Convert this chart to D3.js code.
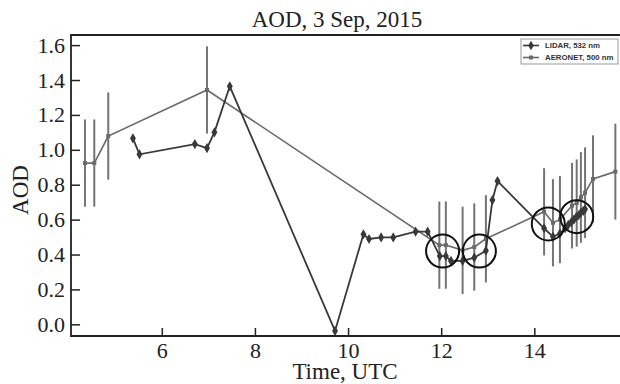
<!DOCTYPE html>
<html>
<head>
<meta charset="utf-8">
<script src="https://cdn.jsdelivr.net/npm/d3@7"></script>
<style>
  body { margin: 0; background: #fff; }
  svg { display: block; }
  .tick text { font-family: "Liberation Serif", "Times New Roman", serif; font-size: 22px; fill: #222; }
</style>
</head>
<body>
<div id="chart"></div>
<script>
// LIDAR 532 nm
const lidarTime = [5.38, 5.52, 6.71, 6.97, 7.13, 7.46, 9.72, 10.33, 10.45, 10.71, 10.97, 11.45, 11.71,
    11.97, 12.10, 12.21, 12.46, 12.71, 12.96, 13.10, 13.21, 14.21, 14.40, 14.55, 14.66, 14.73, 14.79,
    14.85, 14.90, 14.95, 15.00, 15.05, 15.09]
const lidarAOD = [1.066, 0.974, 1.033, 1.01, 1.10, 1.364, -0.038, 0.516, 0.489, 0.498, 0.498, 0.531, 0.531,
    0.391, 0.391, 0.363, 0.363, 0.382, 0.422, 0.712, 0.821, 0.55, 0.502, 0.52, 0.55, 0.57, 0.585,
    0.60, 0.615, 0.625, 0.64, 0.65, 0.66]

// AERONET 500 nm, with error
const aeroTime = [4.35, 4.55, 4.85, 6.97, 11.96, 12.10, 12.46, 12.71, 12.96, 14.21, 14.40, 14.55,
    14.81, 14.91, 15.00, 15.09, 15.26, 15.74]
const aeroAOD = [0.924, 0.924, 1.079, 1.343, 0.454, 0.454, 0.424, 0.443, 0.49, 0.645, 0.582, 0.60,
    0.68, 0.695, 0.727, 0.754, 0.833, 0.875]
const aeroErr = [0.25, 0.25, 0.25, 0.25, 0.25, 0.25, 0.25, 0.25, 0.25, 0.25, 0.25, 0.25,
    0.245, 0.25, 0.26, 0.26, 0.25, 0.275]

// circled regions (data coords)
const circleTime = [12.03, 12.82, 14.30, 14.91]
const circleAOD = [0.42, 0.42, 0.575, 0.617]

const xTicks = [6, 8, 10, 12, 14]
const yTicks = [0.0, 0.2, 0.4, 0.6, 0.8, 1.0, 1.2, 1.4, 1.6]

const W = 620, H = 384
const margin = {top: 35, right: 0, bottom: 48, left: 71}
const width = W - margin.left - margin.right
const height = H - margin.top - margin.bottom

const lidarColor = "#383838"
const aeroColor = "#6a6a6a"

const svg = d3.select("#chart").append("svg")
    .attr("width", W)
    .attr("height", H)

const plt = svg.append("g")
    .attr("transform", "translate(" + margin.left + "," + margin.top + ")")

const x = d3.scaleLinear().domain([4.05, 15.84]).range([0, width])
const y = d3.scaleLinear().domain([-0.067, 1.658]).range([height, 0])

const lidar = lidarTime.map((t, i) => ({t: t, v: lidarAOD[i]}))
const aero = aeroTime.map((t, i) => ({t: t, v: aeroAOD[i], e: aeroErr[i]}))

// error bars
plt.selectAll(".err")
    .data(aero)
    .enter()
    .append("line")
    .attr("x1", d => x(d.t)).attr("x2", d => x(d.t))
    .attr("y1", d => y(d.v - d.e)).attr("y2", d => y(d.v + d.e))
    .attr("stroke", "#747474")
    .attr("stroke-width", 2)

const line = d3.line().x(d => x(d.t)).y(d => y(d.v))

// AERONET line
plt.append("path")
    .datum(aero)
    .attr("d", line)
    .attr("fill", "none")
    .attr("stroke", aeroColor)
    .attr("stroke-width", 1.6)

plt.selectAll(".aeroPt")
    .data(aero)
    .enter()
    .append("rect")
    .attr("x", d => x(d.t) - 2).attr("y", d => y(d.v) - 2)
    .attr("width", 4).attr("height", 4)
    .attr("fill", aeroColor)

// LIDAR line
plt.append("path")
    .datum(lidar)
    .attr("d", line)
    .attr("fill", "none")
    .attr("stroke", lidarColor)
    .attr("stroke-width", 1.8)

const diamond = d3.symbol().type(d3.symbolDiamond).size(30)
plt.selectAll(".lidarPt")
    .data(lidar)
    .enter()
    .append("path")
    .attr("d", diamond)
    .attr("transform", d => "translate(" + x(d.t) + "," + y(d.v) + ")")
    .attr("fill", lidarColor)

// circles
plt.selectAll(".ring")
    .data(circleTime)
    .enter()
    .append("circle")
    .attr("cx", d => x(d))
    .attr("cy", (d, i) => y(circleAOD[i]))
    .attr("r", 16.5)
    .attr("fill", "none")
    .attr("stroke", "#111")
    .attr("stroke-width", 2)

// axes, ticks pointing inward
const yAxis = plt.append("g")
    .call(d3.axisLeft(y).tickValues(yTicks).tickFormat(d3.format(".1f")).tickSizeInner(-9).tickSizeOuter(0).tickPadding(6))
const xAxis = plt.append("g")
    .attr("transform", "translate(0," + height + ")")
    .call(d3.axisBottom(x).tickValues(xTicks).tickSizeInner(-8).tickSizeOuter(0).tickPadding(6))

yAxis.select(".domain").remove()
xAxis.select(".domain").remove()
plt.selectAll(".tick line").attr("stroke", "#222").attr("stroke-width", 1.5)

// frame: left, bottom, top
plt.append("path")
    .attr("d", "M" + width + ",0H0V" + height + "H" + width)
    .attr("fill", "none")
    .attr("stroke", "#222")
    .attr("stroke-width", 1.8)

// title and labels
const serif = "'Liberation Serif', 'Times New Roman', serif"
svg.append("text")
    .attr("x", 337).attr("y", 27)
    .attr("text-anchor", "middle")
    .style("font-family", serif).style("font-size", "23px").attr("fill", "#222")
    .text("AOD, 3 Sep, 2015")

svg.append("text")
    .attr("x", 345).attr("y", 379)
    .attr("text-anchor", "middle")
    .style("font-family", serif).style("font-size", "23px").attr("fill", "#222")
    .text("Time, UTC")

svg.append("text")
    .attr("transform", "translate(28,190) rotate(-90)")
    .attr("text-anchor", "middle")
    .style("font-family", serif).style("font-size", "23px").attr("fill", "#222")
    .text("AOD")

// legend
const legend = svg.append("g").attr("transform", "translate(521,39)")
legend.append("rect")
    .attr("width", 97).attr("height", 25)
    .attr("fill", "#fff").attr("stroke", "#999").attr("stroke-width", 1)

const legendItems = [
    {label: "LIDAR, 532 nm", color: lidarColor, sym: "diamond"},
    {label: "AERONET, 500 nm", color: aeroColor, sym: "square"}
]
legendItems.forEach((item, i) => {
    const ly = 6.5 + i * 12
    legend.append("line")
        .attr("x1", 2).attr("x2", 18).attr("y1", ly).attr("y2", ly)
        .attr("stroke", item.color).attr("stroke-width", 1.6)
    if (item.sym === "diamond") {
        legend.append("path")
            .attr("d", d3.symbol().type(d3.symbolDiamond).size(26))
            .attr("transform", "translate(10," + ly + ")")
            .attr("fill", item.color)
    } else {
        legend.append("rect")
            .attr("x", 8).attr("y", ly - 2).attr("width", 4).attr("height", 4)
            .attr("fill", item.color)
    }
    legend.append("text")
        .attr("x", 24).attr("y", ly + 2.8)
        .style("font-family", "'Liberation Sans', Arial, sans-serif")
        .style("font-size", "7.8px").style("font-weight", "bold")
        .attr("fill", "#333")
        .text(item.label)
})
</script>
</body>
</html>
